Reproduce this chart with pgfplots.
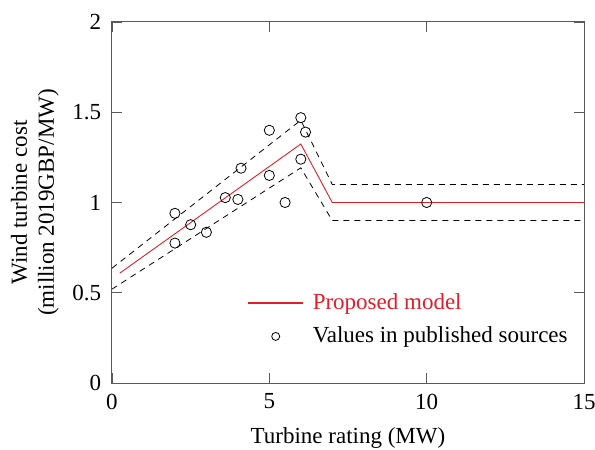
\documentclass[border=0pt]{standalone}
\usepackage{fontspec}
\setmainfont{Liberation Serif}
\usepackage{pgfplots}
\pgfplotsset{compat=1.18}
\definecolor{myred}{RGB}{226,30,40}
\definecolor{axgray}{RGB}{90,90,90}
\pgfplotsset{
  mylineleg/.style={legend image code/.code={\color{myred}\draw[color=myred, line width=1.1bp] (0bp,0bp) -- (55bp,0bp);}},
  mymarkleg/.style={legend image code/.code={\draw[##1, mark size=4bp] plot coordinates {(27.5bp,0bp)};}},
}
\begin{document}
\fontsize{23bp}{27bp}\selectfont
\begin{tikzpicture}
\path[use as bounding box] (-112bp,-67bp) rectangle (483bp,383bp);
\begin{axis}[
  scale only axis,
  width=472bp, height=361bp,
  xmin=0, xmax=15, ymin=0, ymax=2,
  xtick={0,5,10,15}, ytick={0,0.5,1,1.5,2},
  yticklabels={0,0.5,1,1.5,2},
  tick align=inside,
  major tick length=10bp,
  tick style={line width=0.9bp, color=axgray},
  axis line style={line width=1bp, color=axgray},
  /pgf/number format/assume math mode=true,
  ticklabel style={font=\fontsize{23bp}{27bp}\selectfont},
  xticklabel style={yshift=-3bp},
  yticklabel style={xshift=-3bp},
  label style={font=\fontsize{23bp}{27bp}\selectfont},
  xlabel={Turbine rating (MW)},
  xlabel style={yshift=-3bp},
  ylabel={Wind turbine cost\\(million 2019GBP/MW)},
  ylabel style={align=center, yshift=-2bp},
  legend style={fill=none, at={(axis cs:4.21,0.52)}, anchor=north west,
    font=\fontsize{23bp}{27bp}\selectfont, row sep=10bp,
    /tikz/every odd column/.append style={column sep=7bp}},
  every axis legend/.append style={draw=none},
  legend cell align=left,
  clip=false,
]
\addplot[color=myred, line width=0.9bp, mylineleg]
  coordinates {(0.25,0.609) (6,1.324) (7,1.0) (15,1.0)};
\addlegendentry{\textcolor{myred}{Proposed model}}
\addplot[only marks, mark=o, mark size=5.1bp, color=black, line width=0.8bp, mymarkleg]
  coordinates {(2,0.94) (2,0.775) (2.5,0.877) (3,0.835) (3.6,1.027) (4,1.017)
    (4.1,1.19) (5,1.40) (5,1.15) (5.5,1.0) (6,1.47) (6.15,1.39) (6,1.24) (10,1.0)};
\addlegendentry{Values in published sources}
\addplot[black, line width=0.8bp, dash pattern=on 6bp off 5bp, forget plot]
  coordinates {(0,0.636) (6,1.456) (7,1.1) (15,1.1)};
\addplot[black, line width=0.8bp, dash pattern=on 6bp off 5bp, forget plot]
  coordinates {(0,0.520) (6,1.192) (7,0.9) (15,0.9)};
\end{axis}
\end{tikzpicture}
\end{document}
